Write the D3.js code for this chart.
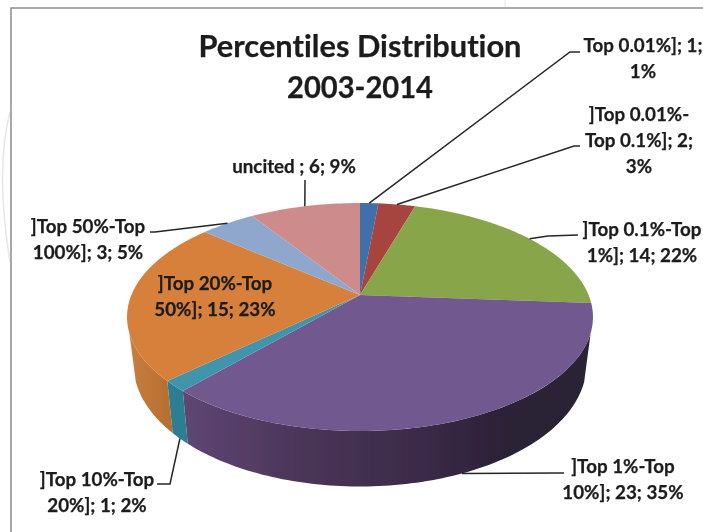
<!DOCTYPE html>
<html>
<head>
<meta charset="utf-8">
<title>Percentiles Distribution 2003-2014</title>
<script src="https://cdn.jsdelivr.net/npm/d3@7"></script>
<style>
	html, body { margin: 0; padding: 0; background: #fff; overflow: hidden; }
	text { font-family: Lato, "Open Sans", sans-serif; font-weight: 700; fill: #1c1c1c; stroke: #1c1c1c; stroke-width: 0.25; font-variant-ligatures: none; }
</style>
</head>
<body>
<svg id="chart" width="703" height="532"></svg>
<script>
	var titleLines = ["Percentiles Distribution", "2003-2014"];
	var titleWidths = [323, 146];
	var categories = ["Top 0.01%]", "]Top 0.01%-Top 0.1%]", "]Top 0.1%-Top 1%]", "]Top 1%-Top 10%]",
		"]Top 10%-Top 20%]", "]Top 20%-Top 50%]", "]Top 50%-Top 100%]", "uncited "];
	var counts = [1, 2, 14, 23, 1, 15, 3, 6];
	var percents = [1, 3, 22, 35, 2, 23, 5, 9];
	var topColors = ["#3f70a9", "#a64441", "#88a54a", "#71588f", "#3f95ad", "#d7803a", "#8fa6cd", "#cd8c8b"];

	// where each label wraps, text centre, first baseline, then the leader's way to the label
	var labelBreaks = [["1; "], ["%-", "2; "], ["Top 1", ], ["Top 10"], ["Top 20"], ["Top 50"], ["Top 100"], []];
	var labelX = [643, 639, 642, 623, 97, 215, 88, 294];
	var labelY = [52, 121, 236, 473, 486, 290, 233, 173];
	var leaderPath = [[[570, 52], [580, 52]], [[574, 146], [580, 146]], [[548, 236], [578, 235]], [[564, 473]],
		[[170, 484], [157, 484]], [], [[155, 232], [150, 232]], [[305, 180]]];

	var width = 703, height = 532;
	var cx = 360, cy = 295;		// apex of the pie
	var R = 228.6, B = 109.75, k = 0.193;	// radius, foreshortened radius, perspective
	var shrinkX = 0.972, shrinkY = 1.07, drop = 46;	// lower rim relative to upper rim
	var sideFrom = 109 * Math.PI / 180, sideTo = 251 * Math.PI / 180;

	var svg = d3.select("#chart");
	var defs = svg.append("defs");
	defs.append("filter").attr("id", "soft").append("feGaussianBlur").attr("stdDeviation", 0.45);

	var purple = defs.append("linearGradient").attr("id", "purpleSide");
	[[0, "#5f4674"], [0.3, "#4a3558"], [0.6, "#3a2a47"], [0.8, "#2b2036"], [1, "#2b2036"]].forEach(function(s) {
		purple.append("stop").attr("offset", s[0]).attr("stop-color", s[1]);
	});
	var orange = defs.append("linearGradient").attr("id", "orangeSide");
	[[0, "#c87e3e"], [1, "#b56d30"]].forEach(function(s) {
		orange.append("stop").attr("offset", s[0]).attr("stop-color", s[1]);
	});
	var sideColors = {3: "url(#purpleSide)", 4: "#2f7e93", 5: "url(#orangeSide)"};

	var root = svg.append("g").attr("filter", "url(#soft)");

	// faint shapes of the page behind the chart, and the chart frame
	root.append("path").attr("d", "M10,112 Q-5,170 10,262").attr("fill", "none").attr("stroke", "#e6e6e6").attr("stroke-width", 1.5);
	root.append("line").attr("x1", 505).attr("y1", 0).attr("x2", 505).attr("y2", 7).attr("stroke", "#e2e2e2");
	root.append("path").attr("d", "M703,8 H11 V532").attr("fill", "none").attr("stroke", "#8c8c8c").attr("stroke-width", 1.5);

	// angle: 0 at the top, clockwise
	function upper(a) {
		var v = -Math.cos(a), s = 1 / (1 - k * v);
		return [cx + R * Math.sin(a) * s, cy + B * v * s];
	}
	function lower(a) {
		var p = upper(a);
		return [cx + (p[0] - cx) * shrinkX, cy + drop + (p[1] - cy) * shrinkY];
	}
	function sweep(a0, a1) {
		var n = Math.max(2, Math.ceil((a1 - a0) / 0.02));
		return d3.range(n + 1).map(function(i) { return a0 + (a1 - a0) * i / n; });
	}

	var line = d3.line();
	var slices = d3.pie().sort(null).value(function(d) { return d; })(counts);

	// sides first
	slices.forEach(function(d) {
		var a0 = Math.max(d.startAngle, sideFrom), a1 = Math.min(d.endAngle, sideTo);
		if (a1 <= a0) return;
		var angles = sweep(a0, a1);
		root.append("path")
			.attr("d", line(angles.map(upper).concat(angles.slice().reverse().map(lower))) + "Z")
			.attr("fill", sideColors[d.index]);
	});

	root.selectAll(".slice")
		.data(slices)
		.enter().append("path")
		.attr("class", "slice")
		.attr("d", function(d) {
			return line([[cx, cy]].concat(sweep(d.startAngle, d.endAngle).map(upper))) + "Z";
		})
		.attr("fill", function(d) { return topColors[d.index]; });

	// leaders start on the rim at the middle of their slice
	slices.forEach(function(d) {
		var pts = leaderPath[d.index];
		if (!pts.length) return;
		var mid = (d.startAngle + d.endAngle) / 2;
		var front = mid > sideFrom && mid < sideTo;
		root.append("path")
			.attr("d", line([front ? lower(mid) : upper(mid)].concat(pts)))
			.attr("fill", "none")
			.attr("stroke", "#262626")
			.attr("stroke-width", 1.5);
	});

	categories.forEach(function(cat, i) {
		var lines = [cat + "; " + counts[i] + "; " + percents[i] + "%"];
		labelBreaks[i].forEach(function(b) {
			var last = lines.pop();
			// a break written as "xx " or "xx-" cuts after it, otherwise cuts before its last word
			var cut = / $|-$/.test(b) ? last.indexOf(b) + b.length : last.indexOf(b) + b.indexOf(" ") + 1;
			lines.push(last.slice(0, cut).trim(), last.slice(cut));
		});
		lines.forEach(function(t, j) {
			root.append("text")
				.attr("x", labelX[i])
				.attr("y", labelY[i] + j * 26)
				.attr("text-anchor", "middle")
				.attr("font-size", 18.8)
				.text(t);
		});
	});

	titleLines.forEach(function(t, j) {
		root.append("text")
			.attr("x", 360)
			.attr("y", 57 + j * 41)
			.attr("text-anchor", "middle")
			.attr("font-size", 31)
			.attr("textLength", titleWidths[j])
			.attr("lengthAdjust", "spacingAndGlyphs")
			.text(t);
	});
</script>
</body>
</html>
